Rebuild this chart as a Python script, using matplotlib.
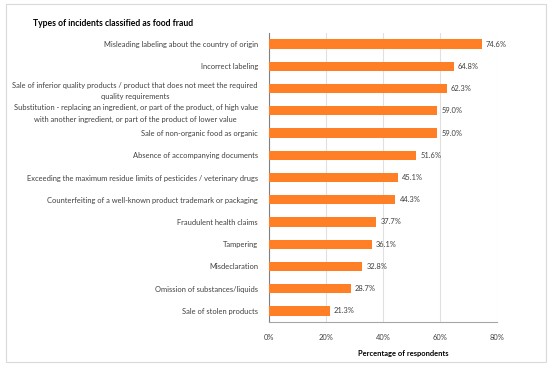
import matplotlib.pyplot as plt
from matplotlib.patches import Rectangle

categories = [
    "Misleading labeling about the country of origin",
    "Incorrect labeling",
    "Sale of inferior quality products / product that does not meet the required\nquality requirements",
    "Substitution - replacing an ingredient, or part of the product, of high value\nwith another ingredient, or part of the product of lower value",
    "Sale of non-organic food as organic",
    "Absence of accompanying documents",
    "Exceeding the maximum residue limits of pesticides / veterinary drugs",
    "Counterfeiting of a well-known product trademark or packaging",
    "Fraudulent health claims",
    "Tampering",
    "Misdeclaration",
    "Omission of substances/liquids",
    "Sale of stolen products",
]
values = [74.6, 64.8, 62.3, 59.0, 59.0, 51.6, 45.1, 44.3, 37.7, 36.1, 32.8, 28.7, 21.3]
xticks = [0, 20, 40, 60, 80]

plt.rcParams['font.family'] = ['Lato', 'DejaVu Sans']
fs = 5.4

fig = plt.figure(figsize=(5.5, 3.66), dpi=100)
ax = fig.add_axes([269/550, 1 - 322/366, 228/550, 289/366])

# light frame around the whole chart
fig.patches.append(Rectangle((6/550, 4/366), 540/550, 358/366, transform=fig.transFigure,
                             fill=False, edgecolor='#d9d9d9', linewidth=0.8))

pos = list(range(len(values)))
ax.barh(pos, values, height=0.42, color='#ff7f27', zorder=3)
ax.set_ylim(len(values) - 0.5, -0.5)
ax.set_xlim(0, 80)

for p, v in zip(pos, values):
    ax.text(v + 1.5, p, f"{v:.1f}%", va='center', ha='left', fontsize=fs, color='#404040')

ax.set_yticks(pos)
ax.set_yticklabels(categories, fontsize=fs, color='#404040', linespacing=1.7,
                   multialignment='center')
ax.set_xticks(xticks)
ax.set_xticklabels([f"{t}%" for t in xticks], fontsize=fs, color='#404040')
ax.tick_params(axis='y', length=0, pad=8)
ax.tick_params(axis='x', length=0, pad=9)

ax.grid(axis='x', color='#e0e0e0', linewidth=0.8, zorder=0)
for s in ['top', 'right']:
    ax.spines[s].set_visible(False)
ax.spines['left'].set_color('#808080')
ax.spines['bottom'].set_color('#a6a6a6')

ax.set_xlabel("Percentage of respondents", fontsize=fs, fontweight='bold', color='#000000',
              x=0.59, labelpad=6)
fig.text(33/550, 1 - 24/366, "Types of incidents classified as food fraud", fontsize=6.2,
         fontweight='bold', va='center', ha='left')

fig.savefig("out.png", dpi=100)
